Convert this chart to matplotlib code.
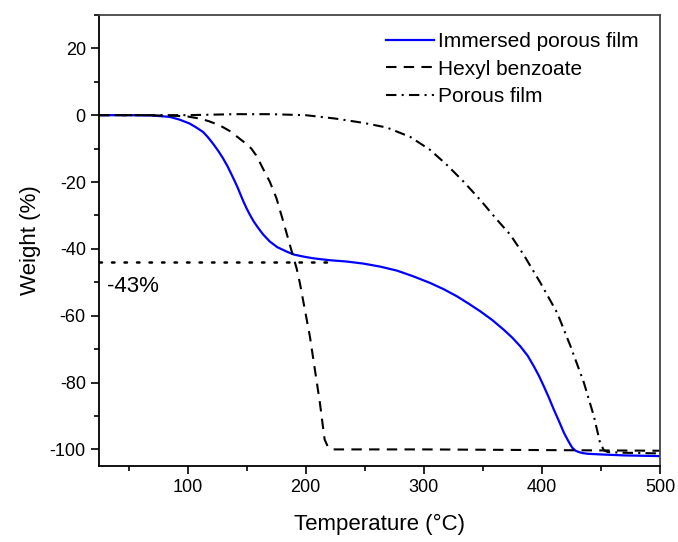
import matplotlib
matplotlib.use("Agg")
import matplotlib.pyplot as plt
from matplotlib.ticker import MultipleLocator

plt.rcParams['font.family'] = ['Liberation Sans', 'DejaVu Sans']
plt.rcParams['axes.unicode_minus'] = False

# TGA curves: temperature (°C) vs. weight change (%)
immersed_T = [25, 50, 70, 84.7, 93, 101.7, 107, 113, 117, 121.5, 126, 130, 134, 137,
              140, 142.7, 145, 147, 150, 152.6, 156, 159.7, 164, 169.6, 176, 183.8,
              190, 197.9, 206, 213, 220.5, 235, 248.8, 263, 277.2, 291, 305.4, 317,
              328.1, 338, 347.9, 358, 367.7, 375, 381.8, 388, 393.1, 397.5, 401.6,
              406, 410.1, 414.5, 418.6, 422.5, 425.7, 428.5, 431.4, 434.5, 438.5,
              449.7, 470, 500]
immersed_W = [0, 0, -0.1, -0.5, -1.3, -2.5, -3.6, -5, -6.5, -8.5, -10.7, -12.9, -15.4, -17.6,
              -19.8, -21.9, -23.9, -25.6, -27.9, -29.7, -31.8, -33.7, -35.7, -37.8, -39.5, -40.8,
              -41.7, -42.3, -42.8, -43.1, -43.4, -43.8, -44.4, -45.3, -46.5, -48.2, -50.2, -52.1,
              -54.2, -56.4, -58.7, -61.3, -64.2, -66.6, -69.2, -72.0, -75.1, -78.0, -81.1,
              -84.6, -88.1, -91.6, -95.0, -97.6, -99.5, -100.4, -100.8, -101.1, -101.3,
              -101.5, -101.8, -102.0]

hexyl_T = [25, 60, 90, 100, 110, 118, 127, 136, 144, 149, 154, 158, 161, 165,
           169.6, 175.3, 181, 186.6, 192.3, 195, 203.6, 212, 216, 218.5, 220.5, 223,
           230, 300, 400, 500]
hexyl_W = [0, 0, -0.2, -0.4, -1, -1.8, -3, -4.8, -7, -8.4, -10, -12.0, -14.0, -16.8,
           -19.9, -24.9, -31.8, -38.8, -45.8, -50.1, -66.3, -86, -97, -99.0, -99.7, -100,
           -100, -100, -100.2, -100.4]

porous_T = [25, 60, 100, 140, 170, 200, 224.8, 248.8, 268.7, 288.5, 305.4, 319.6,
            333.7, 347.9, 362, 373.3, 384.6, 398.8, 413, 424.3, 435.6, 444, 449.2,
            452.5, 456, 470, 500]
porous_W = [0, 0, 0, 0.3, 0.3, 0, -1, -2.3, -3.7, -6.5, -10.4, -14.9,
            -19.9, -25.4, -31.3, -35.8, -41.8, -50.2, -59.2, -69.2, -80.1, -90.1, -98,
            -100.3, -100.8, -101, -101.2]

residue_level = -44
residue_T = [25, 226]
residue_text = "-43%"

fig = plt.figure(figsize=(6.78, 5.42), dpi=100)
ax = fig.add_axes([0.146, 0.140, 0.8275, 0.8325])

ax.plot(residue_T, [residue_level, residue_level], color='black', lw=1.8,
        linestyle=(0, (1, 4)), dash_capstyle='round')
ax.plot(immersed_T, immersed_W, color='#0000ff', lw=1.6, label='Immersed porous film')
ax.plot(hexyl_T, hexyl_W, color='black', lw=1.5, linestyle=(0, (5, 3.5)),
        label='Hexyl benzoate')
ax.plot(porous_T, porous_W, color='black', lw=1.5, linestyle=(0, (5, 2.5, 1, 2.5)),
        label='Porous film')

ax.text(32, -51.3, residue_text, fontsize=16, ha='left', va='center')

ax.set_xlim(25, 500)
ax.set_ylim(-105, 30)
ax.xaxis.set_major_locator(MultipleLocator(100))
ax.xaxis.set_minor_locator(MultipleLocator(50))
ax.yaxis.set_major_locator(MultipleLocator(20))
ax.yaxis.set_minor_locator(MultipleLocator(10))
ax.tick_params(which='major', direction='out', length=6, width=1.2, labelsize=13,
               top=False, right=False)
ax.tick_params(which='minor', direction='out', length=3.5, width=1.2,
               top=False, right=False)
for side in ['left', 'bottom']:
    ax.spines[side].set_linewidth(1.3)
    ax.spines[side].set_color('black')
for side in ['top', 'right']:
    ax.spines[side].set_linewidth(1.3)
    ax.spines[side].set_color('#444444')

ax.set_xlabel('Temperature (°C)', fontsize=16, labelpad=13)
ax.set_ylabel('Weight (%)', fontsize=16, labelpad=6)

ax.legend(loc='upper right', frameon=False, fontsize=15, handlelength=2.3,
          handletextpad=0.2, labelspacing=0.42, borderaxespad=0.2,
          bbox_to_anchor=(0.985, 0.99))

fig.savefig('out.png', dpi=100)
